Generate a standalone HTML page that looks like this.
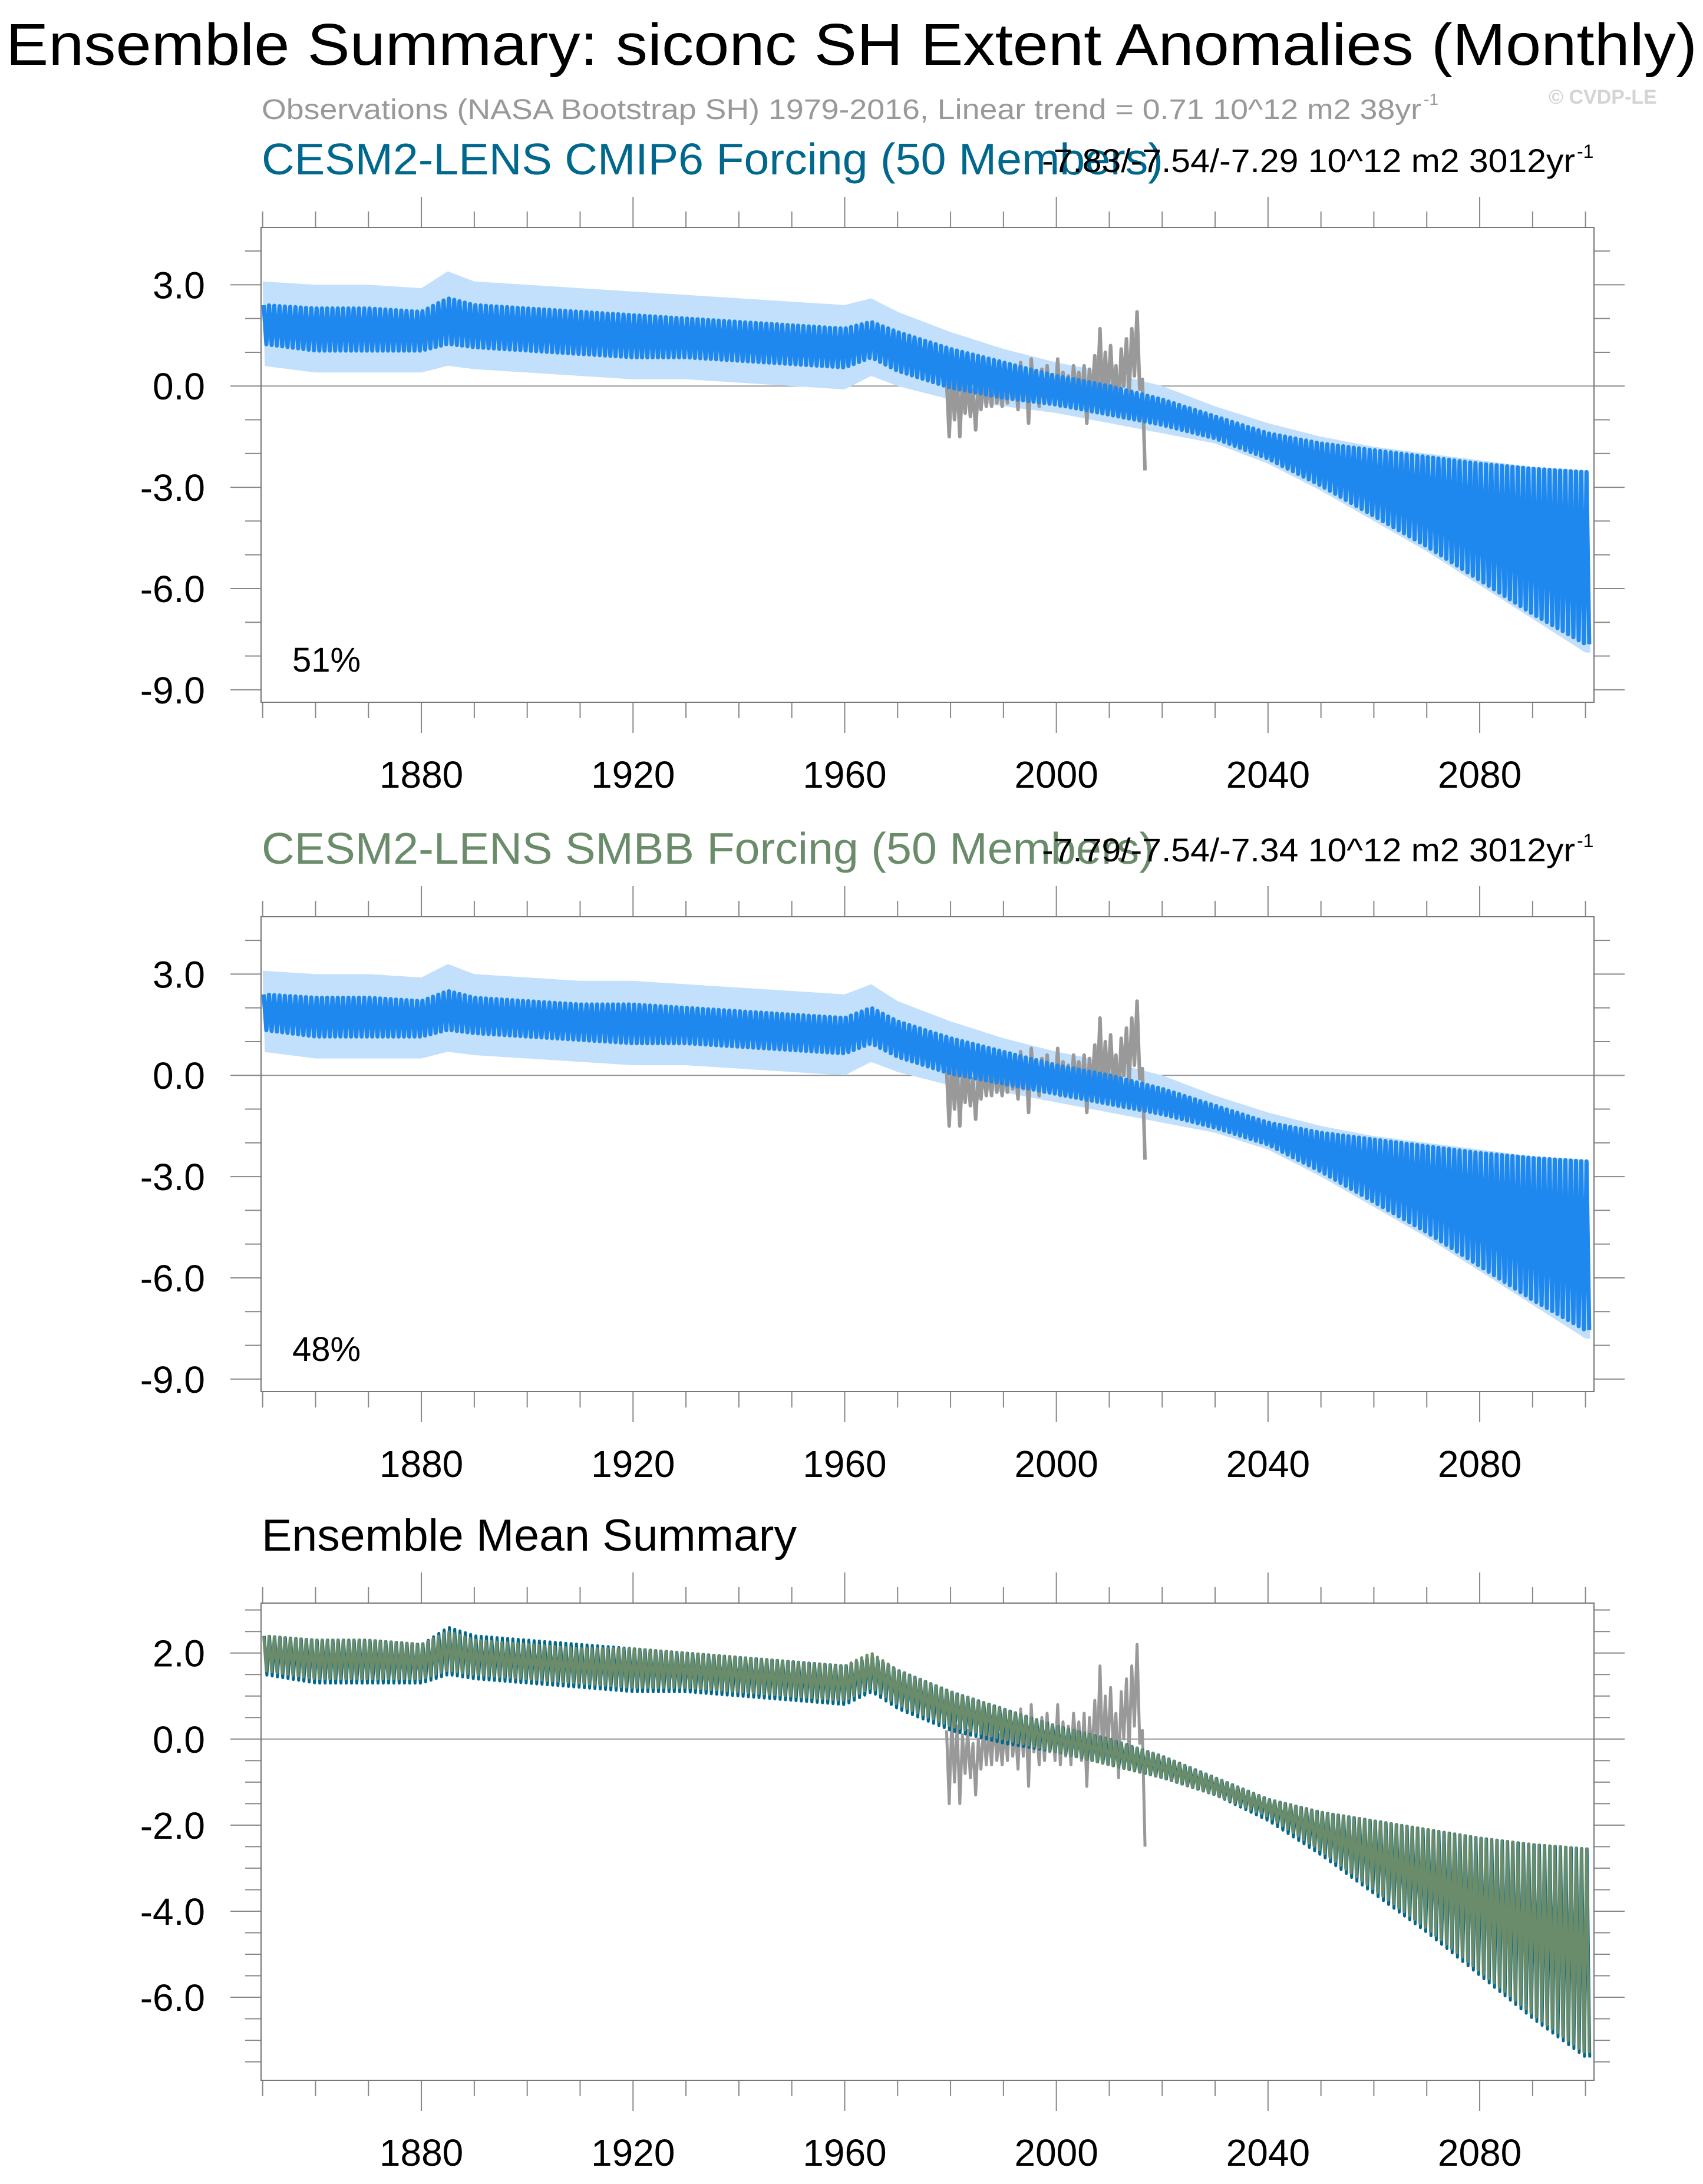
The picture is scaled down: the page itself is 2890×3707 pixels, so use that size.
<!DOCTYPE html>
<html><head><meta charset="utf-8"><style>
html,body{margin:0;padding:0;background:#fff}
svg{display:block;font-family:"Liberation Sans",Arial,sans-serif}
</style></head><body>
<svg id="chart" width="2890" height="3707" viewBox="0 0 2890 3707">
<text x="10" y="110" font-size="100" textLength="2870" lengthAdjust="spacingAndGlyphs">Ensemble Summary: siconc SH Extent Anomalies (Monthly)</text>
<text x="444" y="202" font-size="48" fill="#999" textLength="1968" lengthAdjust="spacingAndGlyphs">Observations (NASA Bootstrap SH) 1979-2016, Linear trend = 0.71 10^12 m2 38yr</text>
<text x="2416" y="178" font-size="28" fill="#999">-1</text>
<text x="2628" y="176" font-size="34" font-weight="bold" fill="#d4d4d4">© CVDP-LE</text>
<g id="titles"></g>
<g id="plots"></g>
</svg>
<script>
// decadal readings of ensemble-mean envelope (annual max / min)
const years = [1850,1860,1870,1880,1885,1890,1900,1910,1920,1930,1940,1950,1960,1965,1970,1980,1990,2000,2010,2020,2030,2040,2050,2060,2070,2080,2090,2100];
const cmipUpper = [2.4,2.3,2.3,2.2,2.6,2.4,2.3,2.2,2.1,2.0,1.9,1.8,1.7,1.9,1.6,1.1,0.7,0.3,0.0,-0.4,-0.9,-1.4,-1.7,-1.9,-2.1,-2.3,-2.45,-2.55];
const cmipLower = [1.5,1.3,1.3,1.3,1.5,1.4,1.3,1.2,1.1,1.1,1.0,0.9,0.8,1.1,0.7,0.2,-0.1,-0.3,-0.6,-0.9,-1.3,-1.9,-2.7,-3.6,-4.5,-5.5,-6.5,-7.4];
const smbbUpper = [2.4,2.3,2.3,2.2,2.5,2.3,2.2,2.1,2.1,2.0,1.9,1.8,1.7,2.0,1.6,1.1,0.7,0.3,0.0,-0.4,-0.9,-1.4,-1.7,-1.9,-2.1,-2.3,-2.45,-2.55];
const smbbLower = [1.6,1.4,1.4,1.4,1.6,1.5,1.4,1.3,1.2,1.2,1.1,1.0,0.9,1.2,0.8,0.3,0.0,-0.3,-0.6,-0.9,-1.3,-1.8,-2.6,-3.5,-4.4,-5.4,-6.4,-7.3];
const spreadUp = [0.7,0.7,0.7,0.7,0.8,0.7,0.7,0.7,0.7,0.7,0.7,0.7,0.7,0.7,0.6,0.5,0.4,0.4,0.4,0.4,0.3,0.3,0.2,0.1,0.1,0.1,0.05,0.05];
const spreadDown = [0.9,0.9,0.9,0.9,0.9,0.9,0.9,0.9,0.9,0.9,0.9,0.9,0.9,0.8,0.7,0.6,0.5,0.5,0.5,0.5,0.4,0.4,0.4,0.4,0.4,0.4,0.4,0.5];
// observations: yearly high / low
const obsYears = [1979,1980,1981,1982,1983,1984,1985,1986,1987,1988,1989,1990,1991,1992,1993,1994,1995,1996,1997,1998,1999,2000,2001,2002,2003,2004,2005,2006,2007,2008,2009,2010,2011,2012,2013,2014,2015,2016];
const obsHigh = [0.2,0.5,0.3,0.1,0.2,-0.1,0.0,0.3,0.2,0.4,0.1,0.3,0.6,0.2,0.7,0.5,0.8,0.2,0.5,0.6,0.3,0.8,0.4,0.3,0.6,0.4,0.6,0.5,0.9,1.7,1.0,1.2,0.6,1.1,1.4,1.7,2.2,0.2];
const obsLow = [-1.5,-1.0,-1.5,-0.8,-0.9,-1.3,-0.7,-0.6,-0.6,-0.5,-0.6,-0.5,-0.4,-0.7,-0.4,-1.1,-0.3,-0.6,-0.5,-0.3,-0.5,-0.6,-0.4,-0.6,-0.2,-0.5,-1.1,-0.4,-0.3,-0.5,-0.3,-0.2,-0.9,0.0,-0.3,0.3,-0.1,-2.5];
const pctLabels = ["51%","48%"];

const NS="http://www.w3.org/2000/svg";
const plots=document.getElementById('plots');
const X0=443,X1=2705,XMIN=1849.7,XMAX=2101.6;
const xs=v=>X0+(v-XMIN)/(XMAX-XMIN)*(X1-X0);
function el(tag,attrs,parent){const e=document.createElementNS(NS,tag);for(const k in attrs)e.setAttribute(k,attrs[k]);(parent||plots).appendChild(e);return e;}
function interp(arrX,arrY,x){if(x<=arrX[0])return arrY[0];for(let i=1;i<arrX.length;i++){if(x<=arrX[i]){const t=(x-arrX[i-1])/(arrX[i]-arrX[i-1]);return arrY[i-1]+t*(arrY[i]-arrY[i-1]);}}return arrY[arrY.length-1];}

function zigzag(up,lo,ys,off,extraLo){let d='';for(let y=1850;y<=2100;y++){const a=interp(years,up,y+0.2),b=interp(years,lo,y+0.7)-(extraLo||0);d+=(d?'L':'M')+xs(y+0.2+off).toFixed(1)+' '+ys(a).toFixed(1)+'L'+xs(y+0.7+off).toFixed(1)+' '+ys(b).toFixed(1);}return d;}

function panel(cfg){
  const g=el('g',{});
  
  
  const ys=v=>cfg.top+(cfg.ymax-v)/(cfg.ymax-cfg.ymin)*(cfg.bottom-cfg.top);
  for(let yr=1850;yr<=2100;yr+=10){const x=xs(yr);const maj=(yr-1880)%40===0;const L=maj?52:27;
    el('line',{x1:x,y1:cfg.top,x2:x,y2:cfg.top-L,stroke:'#888','stroke-width':2},g);
    el('line',{x1:x,y1:cfg.bottom,x2:x,y2:cfg.bottom+L,stroke:'#888','stroke-width':2},g);
    if(maj){const t=el('text',{x:x,y:cfg.bottom+145,'font-size':64,'text-anchor':'middle'},g);t.textContent=yr;
      
      }
  }
  for(let v=Math.ceil(cfg.ymin/cfg.minor)*cfg.minor;v<=cfg.ymax;v+=cfg.minor){const y=ys(v);const maj=cfg.ticks.some(t=>Math.abs(t-v)<1e-6);const L=maj?52:27;
    el('line',{x1:X0,y1:y,x2:X0-L,y2:y,stroke:'#888','stroke-width':2},g);
    el('line',{x1:X1,y1:y,x2:X1+L,y2:y,stroke:'#888','stroke-width':2},g);}
  cfg.ticks.forEach(v=>{const t=el('text',{x:348,y:ys(v)+23,'font-size':64,'text-anchor':'end'},g);t.textContent=v.toFixed(1);
    
    });
  el('line',{x1:X0,y1:ys(0),x2:X1+52,y2:ys(0),stroke:'#999','stroke-width':2},g);
  let od='';obsYears.forEach((y,i)=>{od+=(od?'L':'M')+xs(y+0.25).toFixed(1)+' '+ys(obsHigh[i]).toFixed(1)+'L'+xs(y+0.75).toFixed(1)+' '+ys(obsLow[i]).toFixed(1);});
  if(cfg.kind==='spread'){
    let pu='';
    for(let y=1850;y<=2100.9;y+=0.5){const up=interp(years,cfg.up,y)+interp(years,spreadUp,y);pu+=(pu?'L':'M')+xs(y).toFixed(1)+' '+ys(up).toFixed(1);}
    const pts=[];for(let y=2100.9;y>=1850;y-=0.5){const lo=interp(years,cfg.lo,y)-interp(years,spreadDown,y);pts.push('L'+xs(y).toFixed(1)+' '+ys(lo).toFixed(1));}
    const sp=el('path',{d:pu+pts.join('')+'Z',fill:'#c2e0fc'},g);
    
    
    const o=el('path',{d:od,fill:'none',stroke:'#999','stroke-width':6,'stroke-linejoin':'round'},g);
    
    
    const m=el('path',{d:zigzag(cfg.up,cfg.lo,ys,0,0.25),fill:'none',stroke:'#1e88ef','stroke-width':7,'stroke-linejoin':'round'},g);
    
    
    const pt=el('text',{x:496,y:cfg.bottom-52,'font-size':58},g);pt.textContent=cfg.pct;
    
    
  } else {
    const o=el('path',{d:od,fill:'none',stroke:'#999','stroke-width':5,'stroke-linejoin':'round'},g);
    
    
    const a=el('path',{d:zigzag(cmipUpper,cmipLower,ys,0.1),fill:'none',stroke:'#00678d','stroke-width':5,'stroke-linejoin':'round'},g);
    
    
    const b=el('path',{d:zigzag(smbbUpper,smbbLower,ys,0),fill:'none',stroke:'#6a8c6a','stroke-width':5,'stroke-linejoin':'round'},g);
    
    
  }
  el('rect',{x:X0,y:cfg.top,width:X1-X0,height:cfg.bottom-cfg.top,fill:'none',stroke:'#777','stroke-width':2},g);
}
panel({name:'cmip6-panel',kind:'spread',top:386,bottom:1192,ymin:-9.37,ymax:4.70,ticks:[3,0,-3,-6,-9],minor:1,up:cmipUpper,lo:cmipLower,pct:pctLabels[0]});
panel({name:'smbb-panel',kind:'spread',top:1556,bottom:2362,ymin:-9.37,ymax:4.70,ticks:[3,0,-3,-6,-9],minor:1,up:smbbUpper,lo:smbbLower,pct:pctLabels[1]});
panel({name:'ensemble-mean-panel',kind:'mean',top:2721,bottom:3531,ymin:-7.93,ymax:3.16,ticks:[2,0,-2,-4,-6],minor:0.5});

const T=document.getElementById('titles');
function txt(x,y,s,attrs,name){const t=el('text',Object.assign({x:x,y:y},attrs),T);t.textContent=s;
  
  return t;}
txt(444,296,'CESM2-LENS CMIP6 Forcing (50 Members)',{'font-size':75,fill:'#00678d',textLength:1530,lengthAdjust:'spacingAndGlyphs'},'cmip6-panel-title');
txt(1768,292,'-7.83/-7.54/-7.29 10^12 m2 3012yr',{'font-size':56,textLength:905,lengthAdjust:'spacingAndGlyphs'},'cmip6-trend-label');
txt(2676,268,'-1',{'font-size':32},'cmip6-trend-exponent');
txt(444,1466,'CESM2-LENS SMBB Forcing (50 Members)',{'font-size':75,fill:'#6a8c6a',textLength:1515,lengthAdjust:'spacingAndGlyphs'},'smbb-panel-title');
txt(1768,1462,'-7.79/-7.54/-7.34 10^12 m2 3012yr',{'font-size':56,textLength:905,lengthAdjust:'spacingAndGlyphs'},'smbb-trend-label');
txt(2676,1438,'-1',{'font-size':32},'smbb-trend-exponent');
txt(444,2632,'Ensemble Mean Summary',{'font-size':76,textLength:908,lengthAdjust:'spacingAndGlyphs'},'ensemble-mean-title');
</script>
</body></html>
